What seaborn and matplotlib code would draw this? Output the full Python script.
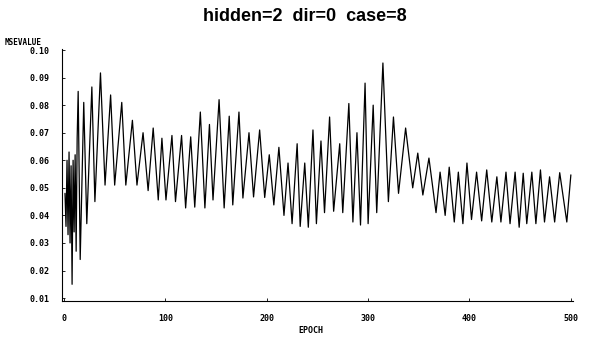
import matplotlib
matplotlib.use("Agg")
import matplotlib.pyplot as plt
import seaborn as sns
import pandas as pd

#%% data (peaks and troughs of the MSE curve)

epoch = [1, 2, 3, 4, 5, 6, 7, 8, 9, 10, 11, 12, 13, 14, 16, 19.5, 22.5, 27.5,
         30.5, 36, 40.5, 46, 50, 57, 61, 67.5, 72, 78, 83, 88, 93, 96.6,
         100.6, 106.5, 110, 116, 120, 125, 129, 134.5, 139, 143.5, 147, 153,
         158, 163, 166.5, 172.6, 176.5, 182.5, 187, 193, 198, 202.5, 207, 212,
         217, 221, 225, 230, 233, 237.5, 241, 245.6, 249, 253.5, 257, 262,
         266, 272, 275, 281, 285, 289, 292.5, 297, 300, 305, 308.5, 314.6,
         320, 325, 330, 337, 344, 349, 354, 360, 367, 371, 376, 380, 385,
         389, 393.5, 397.5, 402, 407, 412, 417, 422, 427, 431, 436, 440, 445,
         449, 453, 456.5, 461.5, 465.5, 470, 474, 479, 484, 489, 496, 500]

msevalue = [0.048, 0.036, 0.060, 0.033, 0.063, 0.030, 0.058, 0.015, 0.060,
            0.034, 0.062, 0.027, 0.068, 0.085, 0.024, 0.081, 0.037, 0.0866,
            0.045, 0.0917, 0.051, 0.0837, 0.051, 0.081, 0.051, 0.0745, 0.051,
            0.070, 0.049, 0.0717, 0.0456, 0.068,
            0.0456, 0.069, 0.045, 0.069, 0.0427, 0.0685, 0.043, 0.0775,
            0.0427, 0.073, 0.0456, 0.082, 0.0427, 0.076, 0.0438, 0.0775,
            0.0463, 0.070, 0.0467, 0.071, 0.0465, 0.062, 0.0438, 0.0647,
            0.040, 0.059, 0.037, 0.066, 0.036, 0.059, 0.0357, 0.071, 0.037,
            0.067, 0.041, 0.0757, 0.0415, 0.066, 0.041, 0.0806, 0.0376, 0.070,
            0.0365, 0.088, 0.037, 0.080, 0.041, 0.0953,
            0.045, 0.0757, 0.048, 0.0717, 0.050, 0.0626, 0.0474, 0.0608, 0.041,
            0.0557, 0.040, 0.0575, 0.0376, 0.0557, 0.037, 0.059, 0.0385,
            0.0557, 0.038, 0.0565, 0.0376, 0.054, 0.0376, 0.0557, 0.037,
            0.0557, 0.0357, 0.0553, 0.037, 0.0557, 0.037, 0.0565, 0.0376,
            0.054, 0.0376, 0.0555, 0.0376, 0.0547]

xticks = [0, 100, 200, 300, 400, 500]
yticks = [0.01, 0.02, 0.03, 0.04, 0.05, 0.06, 0.07, 0.08, 0.09, 0.10]

df = pd.DataFrame({'EPOCH': epoch, 'MSEVALUE': msevalue})

#%% plot

sns.set_style("white")
plt.rcParams['text.color'] = 'black'
fig = plt.figure(figsize=(5.9, 3.39), dpi=100)
ax = fig.add_axes([0.105, 0.111, 0.866, 0.743])

sns.lineplot(data=df, x='EPOCH', y='MSEVALUE', color='black', linewidth=0.9, ax=ax)

ax.set_xlim(-2, 502)
ax.set_ylim(0.0088, 0.1002)
ax.set_xticks(xticks)
ax.set_yticks(yticks)
ax.set_xticklabels([str(t) for t in xticks], fontsize=6, fontweight='bold',
                   family='DejaVu Sans Mono')
ax.set_yticklabels(['%.2f' % t for t in yticks], fontsize=6, fontweight='bold',
                   family='DejaVu Sans Mono')
ax.tick_params(axis='both', direction='in', length=2, width=0.6, pad=9,
               bottom=True, left=True, colors='black')
sns.despine(ax=ax)
for s in ['left', 'bottom']:
    ax.spines[s].set_linewidth(0.8)
    ax.spines[s].set_color('black')

ax.set_xlabel('')
ax.set_ylabel('')
fig.text(0.527, 0.025, 'EPOCH', fontsize=6, fontweight='bold',
         family='DejaVu Sans Mono', ha='center', va='center')
fig.text(0.008, 0.875, 'MSEVALUE', fontsize=5.5, fontweight='bold',
         family='DejaVu Sans Mono', va='center')

fig.suptitle('hidden=2  dir=0  case=8', x=0.517, y=0.975, fontsize=13,
             fontweight='bold', family='Liberation Sans', color='black')

fig.savefig('out.png', dpi=100)
